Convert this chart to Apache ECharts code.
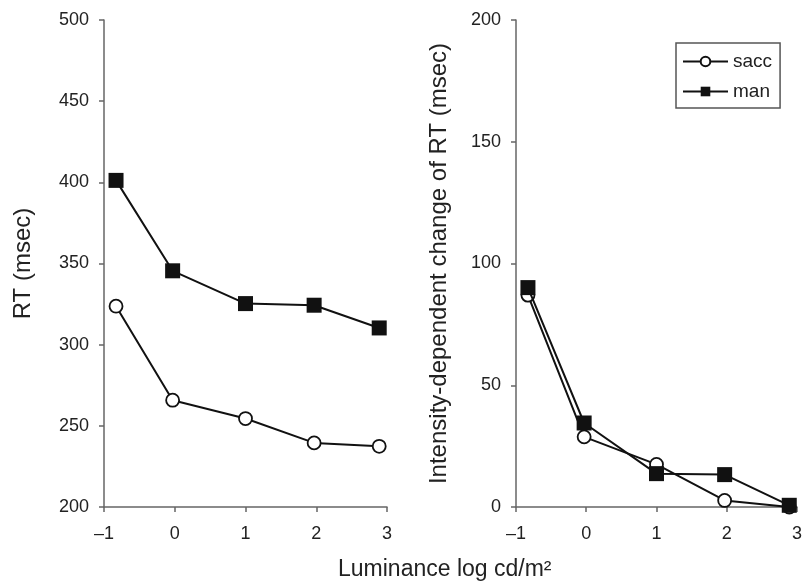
<!DOCTYPE html>
<html>
<head>
<meta charset="utf-8">
<script src="https://cdn.jsdelivr.net/npm/echarts@6/dist/echarts.min.js"></script>
<style>
  html, body { margin: 0; padding: 0; background: #fff; }
  #chart { width: 805px; height: 582px; }
</style>
</head>
<body>
<div id="chart"></div>
<script type="text/javascript">
  // luminance (log cd/m2) of the five conditions
  var luminance = [-0.83, -0.03, 1.0, 1.97, 2.89];
  // left panel: RT (msec)
  var rtSacc = [323.7, 265.8, 254.5, 239.5, 237.4];
  var rtMan = [401.2, 345.5, 325.3, 324.3, 310.3];
  // right panel: intensity-dependent change of RT (msec)
  var chSacc = [87.0, 28.8, 17.5, 2.7, 0];
  var chMan = [90.1, 34.5, 13.7, 13.3, 0.7];

  function pairs(xs, ys) {
    return xs.map(function (x, i) { return [x, ys[i]]; });
  }

  var font = 'Liberation Sans, Arial, sans-serif';
  var axisColor = '#666';
  var textColor = '#222';

  function xAxisCfg(idx) {
    return {
      type: 'value', gridIndex: idx, min: -1, max: 3, interval: 1,
      splitLine: {show: false},
      axisLine: {onZero: false, lineStyle: {color: axisColor, width: 1.5}},
      axisTick: {length: 5, lineStyle: {color: axisColor, width: 1.5}},
      axisLabel: {
        color: textColor, fontSize: 18, fontFamily: font, margin: 18,
        formatter: function (v) { return v < 0 ? '\u2013' + Math.abs(v) : String(v); }
      }
    };
  }

  function yAxisCfg(idx, min, max, name, gap) {
    return {
      type: 'value', gridIndex: idx, min: min, max: max, interval: 50,
      name: name, nameLocation: 'middle', nameGap: gap,
      nameTextStyle: {color: textColor, fontSize: 24, fontFamily: font},
      splitLine: {show: false},
      axisLine: {show: true, onZero: false, lineStyle: {color: axisColor, width: 1.5}},
      axisTick: {show: true, length: 5, lineStyle: {color: axisColor, width: 1.5}},
      axisLabel: {color: textColor, fontSize: 18, fontFamily: font, margin: 15}
    };
  }

  var saccStyle = {
    symbol: 'circle', symbolSize: 13,
    itemStyle: {color: '#fff', borderColor: '#111', borderWidth: 1.8},
    lineStyle: {color: '#111', width: 2}
  };
  var manStyle = {
    symbol: 'rect', symbolSize: 15,
    itemStyle: {color: '#111'},
    lineStyle: {color: '#111', width: 2}
  };

  function line(name, idx, data, st) {
    return {
      name: name, type: 'line', xAxisIndex: idx, yAxisIndex: idx,
      data: data, symbol: st.symbol, symbolSize: st.symbolSize,
      itemStyle: st.itemStyle, lineStyle: st.lineStyle,
      emphasis: {disabled: true}, animation: false, z: name === 'man' ? 3 : 2
    };
  }

  var myChart = echarts.init(document.getElementById('chart'));
  var option = {
    backgroundColor: '#fff',
    animation: false,
    grid: [
      {left: 104, top: 20, width: 283, height: 487},
      {left: 516, top: 20, width: 284, height: 487}
    ],
    xAxis: [xAxisCfg(0), xAxisCfg(1)],
    yAxis: [
      yAxisCfg(0, 200, 500, 'RT (msec)', 69),
      yAxisCfg(1, 0, 200, 'Intensity-dependent change of RT (msec)', 65)
    ],
    legend: {
      data: ['sacc', 'man'],
      orient: 'vertical',
      left: 676, top: 43,
      padding: [9, 8, 7, 6],
      itemGap: 11,
      itemWidth: 45, itemHeight: 12,
      borderColor: '#555', borderWidth: 1.5,
      textStyle: {color: textColor, fontSize: 19, fontFamily: font}
    },
    graphic: [{
      type: 'text', left: 449 - 111, top: 558,
      style: {text: 'Luminance log cd/m\u00b2', fill: textColor, fontSize: 23, fontFamily: font}
    }],
    series: [
      line('sacc', 0, pairs(luminance, rtSacc), saccStyle),
      line('man', 0, pairs(luminance, rtMan), manStyle),
      line('sacc', 1, pairs(luminance, chSacc), saccStyle),
      line('man', 1, pairs(luminance, chMan), manStyle)
    ]
  };
  myChart.setOption(option);
</script>
</body>
</html>
